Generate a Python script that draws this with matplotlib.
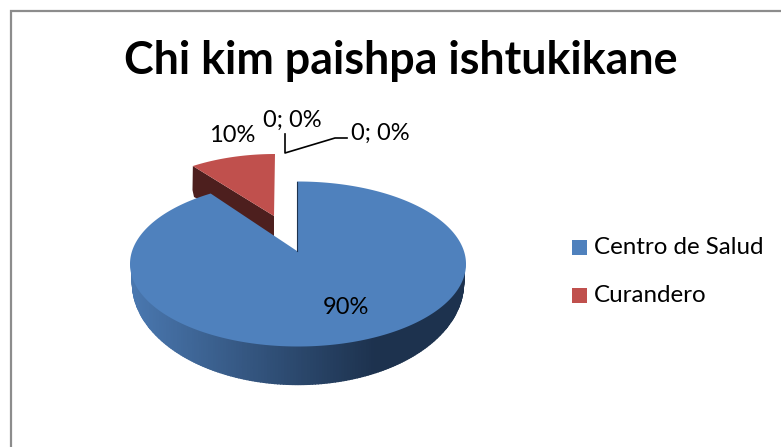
import numpy as np
from matplotlib import pyplot as plt
from matplotlib.patches import Polygon, Rectangle

categories = ["Centro de Salud", "Curandero"]
values = [90, 10]
hidden_values = [0, 0]
colors = ["#4f81bd", "#c0504d"]

W, H = 781, 447
FONT = "Lato"


def arc(cx, cy, rx, ry, a0, a1, n=200):
    # angles in degrees, clockwise from the top of the ellipse
    t = np.radians(np.linspace(a0, a1, n))
    return np.column_stack([cx + rx * np.sin(t), cy - ry * np.cos(t)])


fig = plt.figure(figsize=(W / 100, H / 100), dpi=100)
ax = fig.add_axes([0, 0, 1, 1])
ax.set_xlim(0, W)
ax.set_ylim(H, 0)
ax.axis("off")

# frame
ax.plot([10.5, 10.5, W], [H, 10.5, 10.5], color="#8c8c8c", lw=1.6, solid_joinstyle="miter")

# slice sizes -> ellipse angles, 0.87 is the foreshortening of the tilted view
total = sum(values)
sweep = 360 * values[1] / total * 0.87

# red slice, pulled out
red_top = arc(275, 236.5, 158, 82.5, -sweep, 0)
red_apex = [274, 216]
ax.add_patch(Polygon([red_top[0], red_apex, [274, 238], [194, 197], [192.5, 190]], color="#4d1f1e", lw=0))
ax.add_patch(Polygon(np.vstack([red_top, [red_apex]]), color=colors[1], lw=0))

# blue side wall with shading
top_edge = arc(298, 264, 166.5, 81, 90, 270, 181)
low_edge = arc(298, 283, 165.5, 101.5, 90, 270, 181)
c0 = np.array([0x1d, 0x32, 0x4e]) / 255
c1 = np.array([0x4a, 0x78, 0xb0]) / 255
for i in range(180):
    x = top_edge[i, 0]
    f = np.clip((375 - x) / 245, 0, 1)
    shade = c0 + (c1 - c0) * f
    ax.add_patch(Polygon([top_edge[i], top_edge[i + 1], low_edge[i + 1], low_edge[i]],
                         facecolor=shade, edgecolor=shade, lw=1.0))

# blue top
blue_top = arc(298, 264, 168, 82.5, 0, 360 - sweep, 400)
blue_top[0, 0] = 297
ax.add_patch(Polygon(np.vstack([blue_top, [[297, 251]]]), color=colors[0], lw=0))
ax.plot([297, 297], [182, 251], color="#1d324e", lw=0.8)

# data labels
ax.text(346, 307, "%d%%" % values[0], ha="center", va="center", fontsize=17, family=FONT)
ax.text(232, 135, "%d%%" % values[1], ha="center", va="center", fontsize=17, family=FONT)
ax.text(292, 120, "%d; %d%%" % (hidden_values[0], hidden_values[0]), ha="center", va="center", fontsize=17, family=FONT)
ax.text(380, 133, "%d; %d%%" % (hidden_values[1], hidden_values[1]), ha="center", va="center", fontsize=17, family=FONT)
ax.plot([285, 285, 335, 347], [134, 153, 138, 138], color="black", lw=1.2)

# title
ax.text(401, 61, "Chi kim paishpa ishtukikane", ha="center", va="center", fontsize=32.2, fontweight="bold", family=FONT)

# legend
for y, name, col in zip([247.5, 295.5], categories, colors):
    ax.add_patch(Rectangle((572, y - 7.5), 15, 15, color=col, lw=0))
    ax.text(594, y, name, ha="left", va="center", fontsize=17.4, family=FONT)

plt.savefig("out.png", dpi=100)
